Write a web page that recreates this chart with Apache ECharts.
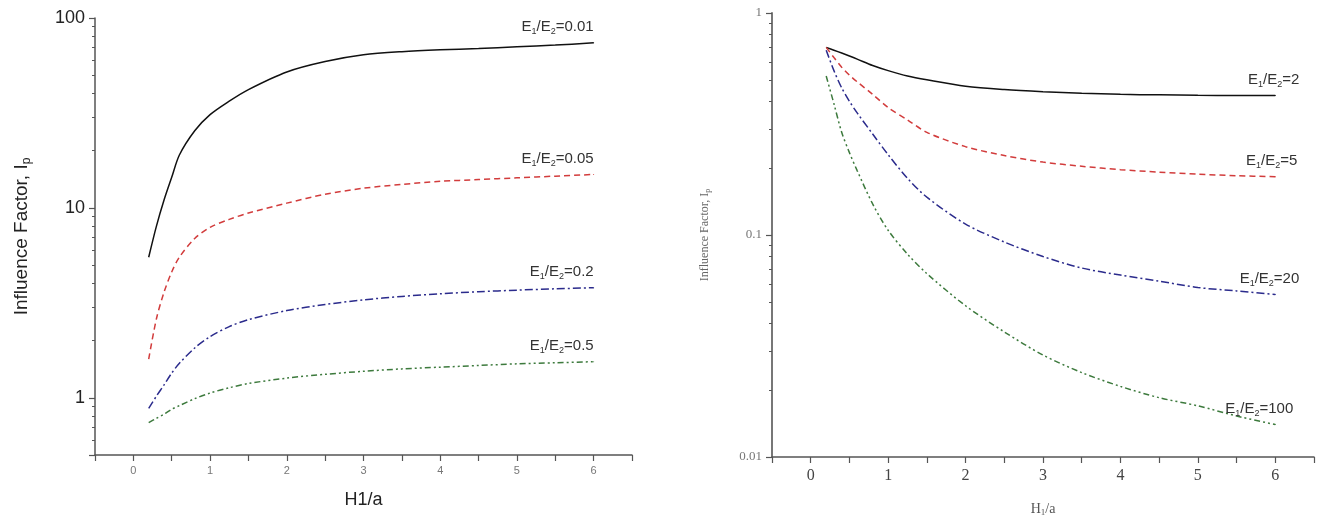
<!DOCTYPE html>
<html>
<head>
<meta charset="utf-8">
<script src="https://cdn.jsdelivr.net/npm/echarts@6/dist/echarts.min.js"></script>
<style>
  html, body { margin: 0; padding: 0; background: #fff; }
  #chart { width: 1321px; height: 526px; }
</style>
</head>
<body>
<div id="chart"></div>
<script>
// H/a positions sampled along the curves
var xs = [0.2, 0.3, 0.4, 0.5, 0.6, 0.8, 1, 1.25, 1.5, 2, 2.5, 3, 3.5, 4, 4.5, 5, 5.5, 6];

// left panel, E1/E2 < 1
var ip001 = [5.5, 8, 11, 14.5, 19, 25.5, 31, 36.5, 42, 52, 59, 64, 66.5, 68, 69, 70.5, 72, 74];
var ip005 = [1.6, 2.6, 3.6, 4.6, 5.5, 6.9, 7.9, 8.7, 9.4, 10.6, 11.8, 12.7, 13.3, 13.8, 14.1, 14.4, 14.7, 15];
var ip02  = [0.88, 1.02, 1.17, 1.35, 1.52, 1.83, 2.1, 2.37, 2.58, 2.88, 3.1, 3.28, 3.42, 3.53, 3.62, 3.69, 3.75, 3.8];
var ip05  = [0.74, 0.78, 0.82, 0.87, 0.91, 0.99, 1.06, 1.13, 1.19, 1.27, 1.33, 1.38, 1.42, 1.45, 1.48, 1.51, 1.53, 1.55];

// right panel, E1/E2 > 1
var ip2   = [0.70, 0.68, 0.66, 0.64, 0.62, 0.58, 0.55, 0.52, 0.5, 0.468, 0.452, 0.442, 0.435, 0.43, 0.428, 0.426, 0.425, 0.425];
var ip5   = [0.70, 0.63, 0.57, 0.525, 0.49, 0.43, 0.375, 0.33, 0.29, 0.25, 0.228, 0.213, 0.204, 0.197, 0.192, 0.188, 0.185, 0.183];
var ip20  = [0.68, 0.55, 0.46, 0.40, 0.355, 0.285, 0.23, 0.18, 0.148, 0.112, 0.093, 0.08, 0.071, 0.066, 0.062, 0.058, 0.056, 0.054];
var ip100 = [0.52, 0.39, 0.29, 0.235, 0.195, 0.138, 0.105, 0.082, 0.067, 0.048, 0.0366, 0.0288, 0.024, 0.0208, 0.0185, 0.017, 0.0153, 0.014];

var ratiosLeft  = ['0.01', '0.05', '0.2', '0.5'];
var ratiosRight = ['2', '5', '20', '100'];
var xTicks = ['0', '1', '2', '3', '4', '5', '6'];

var myChart = echarts.init(document.getElementById('chart'));

function decadeLabel(v) {
    var l = Math.log10(v);
    return Math.abs(l - Math.round(l)) < 1e-6 ? String(v) : '';
}
function intLabel(v) {
    var s = String(v);
    return xTicks.indexOf(s) >= 0 ? s : '';
}

var labelRich = {
    a: { fontSize: 15, lineHeight: 18, color: '#333', fontFamily: 'Liberation Sans, Arial, sans-serif' },
    s: { fontSize: 9, lineHeight: 11, color: '#333', verticalAlign: 'bottom', fontFamily: 'Liberation Sans, Arial, sans-serif' }
};

function makeSeries(idx, ys, ratio, color, dash, dx) {
    var data = xs.map(function (x, i) {
        var item = { value: [x, ys[i]] };
        if (i === xs.length - 1) {
            item.symbol = 'circle';
            item.symbolSize = 1;
            item.label = {
                show: true,
                position: 'top',
                align: 'right',
                distance: 6,
                offset: [dx, 0],
                formatter: '{a|E}{s|1}{a|/E}{s|2}{a|=' + ratio + '}',
                rich: labelRich
            };
        }
        return item;
    });
    return {
        type: 'line',
        xAxisIndex: idx,
        yAxisIndex: idx,
        smooth: 0.3,
        symbol: 'none',
        silent: true,
        itemStyle: { color: color },
        lineStyle: { color: color, width: 1.5, type: dash },
        data: data
    };
}

var DASH = [6, 4];
var DASHDOT = [8, 3, 2, 3];
var DASHDOTDOT = [6, 3, 2, 3, 2, 3];

var xAxisBase = {
    type: 'value',
    min: -0.5,
    max: 6.5,
    interval: 0.5,
    splitLine: { show: false },
    axisLine: { onZero: false, lineStyle: { color: '#555', width: 1.5 } },
    axisTick: { length: 6, lineStyle: { color: '#555', width: 1.2 } }
};

var options = {
    animation: false,
    grid: [
        { left: 95, top: 18, width: 537, height: 437 },
        { left: 772, top: 13, width: 542, height: 444 }
    ],
    xAxis: [
        Object.assign({}, xAxisBase, {
            gridIndex: 0,
            name: 'H1/a',
            nameLocation: 'middle',
            nameGap: 36,
            nameTextStyle: { fontSize: 18, color: '#222', fontFamily: 'Liberation Sans, Arial, sans-serif' },
            axisLabel: { formatter: intLabel, fontSize: 11, color: '#777', margin: 10, fontFamily: 'Liberation Sans, Arial, sans-serif' }
        }),
        Object.assign({}, xAxisBase, {
            gridIndex: 1,
            name: '{a|H}{s|1}{a|/a}',
            nameLocation: 'middle',
            nameGap: 44,
            nameTextStyle: {
                rich: {
                    a: { fontSize: 14, lineHeight: 16, color: '#555', fontFamily: 'Liberation Serif, Times New Roman, serif' },
                    s: { fontSize: 9, lineHeight: 10, color: '#555', verticalAlign: 'bottom', fontFamily: 'Liberation Serif, serif' }
                }
            },
            axisLabel: { formatter: intLabel, fontSize: 16, color: '#444', margin: 11, fontFamily: 'Liberation Serif, Times New Roman, serif' }
        })
    ],
    yAxis: [
        {
            gridIndex: 0,
            type: 'log',
            logBase: 10,
            min: 0.5,
            max: 100,
            name: '{a|Influence Factor, I}{s|p}',
            nameLocation: 'middle',
            nameGap: 62,
            nameTextStyle: {
                rich: {
                    a: { fontSize: 19, lineHeight: 22, color: '#222', fontFamily: 'Liberation Sans, Arial, sans-serif' },
                    s: { fontSize: 12, lineHeight: 13, color: '#222', verticalAlign: 'bottom', fontFamily: 'Liberation Sans, Arial, sans-serif' }
                }
            },
            splitLine: { show: false },
            axisLine: { show: true, onZero: false, lineStyle: { color: '#555', width: 1.5 } },
            axisTick: { length: 6, lineStyle: { color: '#555', width: 1.2 } },
            minorTick: { show: true, splitNumber: 9, length: 3, lineStyle: { color: '#555' } },
            axisLabel: { formatter: decadeLabel, fontSize: 18, color: '#222', margin: 10, fontFamily: 'Liberation Sans, Arial, sans-serif' }
        },
        {
            gridIndex: 1,
            type: 'log',
            logBase: 10,
            min: 0.01,
            max: 1,
            name: '{a|Influence Factor, I}{s|p}',
            nameLocation: 'middle',
            nameGap: 60,
            nameTextStyle: {
                rich: {
                    a: { fontSize: 12, lineHeight: 14, color: '#666', fontFamily: 'Liberation Serif, Times New Roman, serif' },
                    s: { fontSize: 8, lineHeight: 9, color: '#666', verticalAlign: 'bottom', fontFamily: 'Liberation Serif, serif' }
                }
            },
            splitLine: { show: false },
            axisLine: { show: true, onZero: false, lineStyle: { color: '#777', width: 2 } },
            axisTick: { length: 6, lineStyle: { color: '#555', width: 1.2 } },
            minorTick: { show: true, splitNumber: 9, length: 3, lineStyle: { color: '#555' } },
            axisLabel: { formatter: decadeLabel, fontSize: 13, color: '#777', margin: 10, fontFamily: 'Liberation Serif, Times New Roman, serif' }
        }
    ],
    series: [
        makeSeries(0, ip001, ratiosLeft[0], '#111111', 'solid', 0),
        makeSeries(0, ip005, ratiosLeft[1], '#d23c3c', DASH, 0),
        makeSeries(0, ip02, ratiosLeft[2], '#2b2b8c', DASHDOT, 0),
        makeSeries(0, ip05, ratiosLeft[3], '#3d7a3d', DASHDOTDOT, 0),
        makeSeries(1, ip2, ratiosRight[0], '#111111', 'solid', 24),
        makeSeries(1, ip5, ratiosRight[1], '#d23c3c', DASH, 22),
        makeSeries(1, ip20, ratiosRight[2], '#2b2b8c', DASHDOT, 24),
        makeSeries(1, ip100, ratiosRight[3], '#3d7a3d', DASHDOTDOT, 18)
    ]
};

myChart.setOption(options);
window.onresize = function () {
    myChart.resize();
};
</script>
</body>
</html>
